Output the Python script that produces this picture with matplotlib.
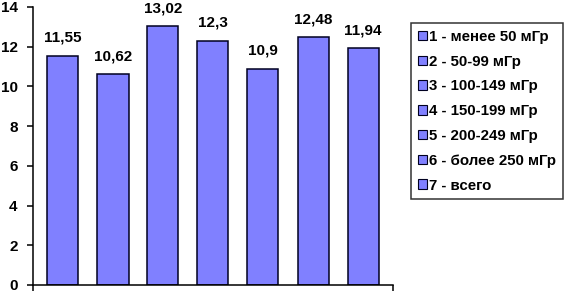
import matplotlib
matplotlib.use("Agg")
import matplotlib.pyplot as plt
from matplotlib.patches import Patch

plt.rcParams['font.family'] = ['Liberation Sans', 'DejaVu Sans']
plt.rcParams['font.weight'] = 'bold'

labels = ["1 - менее 50 мГр", "2 - 50-99 мГр", "3 - 100-149 мГр", "4 - 150-199 мГр",
          "5 - 200-249 мГр", "6 - более 250 мГр", "7 - всего"]
values = [11.55, 10.62, 13.02, 12.3, 10.9, 12.48, 11.94]
value_texts = ["11,55", "10,62", "13,02", "12,3", "10,9", "12,48", "11,94"]
yticks = [0, 2, 4, 6, 8, 10, 12, 14]

W, H = 570, 291
fig = plt.figure(figsize=(W/100, H/100), dpi=100)
ax = fig.add_axes([33/W, 6/H, 360/W, 278/H])

color = '#8080FF'
edge = '#000020'
x = list(range(len(values)))
ax.bar(x, values, width=0.62, color=color, edgecolor=edge, linewidth=1.1)
for xi, v, t in zip(x, values, value_texts):
    ax.annotate(t, (xi, v), xytext=(0, 10), textcoords='offset points',
                ha='center', va='baseline', fontsize=11, fontweight='bold')

ax.set_xlim(-0.6, 6.6)
ax.set_ylim(0, 14)
ax.set_yticks(yticks)
ax.set_yticklabels([str(t) for t in yticks], fontsize=11, fontweight='bold')
ax.set_xticks([-0.6, 6.6])
ax.set_xticklabels(['', ''])
ax.tick_params(axis='both', direction='out', length=4, width=1.1)
ax.tick_params(axis='y', pad=7)
for s in ['top', 'right']:
    ax.spines[s].set_visible(False)
for s in ['left', 'bottom']:
    ax.spines[s].set_linewidth(1.1)

handles = [Patch(facecolor=color, edgecolor=edge, linewidth=0.8, label=l) for l in labels]
leg = fig.legend(handles=handles, loc='upper left', bbox_to_anchor=(411/W, 1 - 23/H),
                 frameon=True, fancybox=False, edgecolor='black', fontsize=10.8,
                 handlelength=0.6, handleheight=0.6, handletextpad=0.15,
                 labelspacing=0.72, borderpad=0.45, borderaxespad=0)
leg.get_frame().set_linewidth(1.1)
for t in leg.get_texts():
    t.set_fontweight('bold')

fig.savefig('out.png', dpi=100)
